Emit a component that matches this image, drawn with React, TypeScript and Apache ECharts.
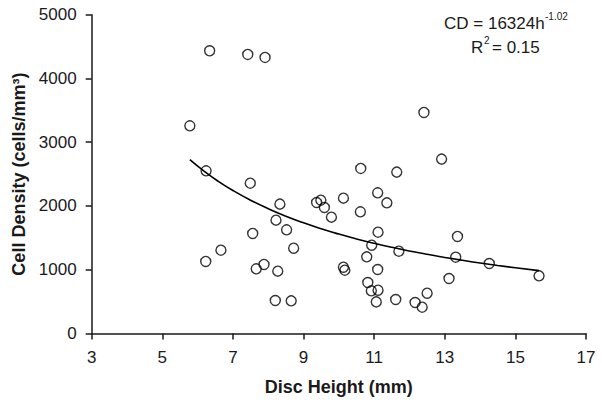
import React, { useEffect, useRef } from "react";
import * as echarts from "echarts";

const discHeight = [
  5.78, 6.24, 6.23, 6.34, 6.66, 7.42, 7.49, 7.56, 7.66, 7.88,
  7.91, 8.2, 8.22, 8.27, 8.33, 8.52, 8.65, 8.72, 9.37, 9.49,
  9.59, 9.79, 10.13, 10.13, 10.17, 10.61, 10.62, 10.79, 10.82, 10.92,
  10.93, 11.06, 11.1, 11.1, 11.11, 11.11, 11.36, 11.61, 11.64, 11.7,
  12.16, 12.36, 12.41, 12.5, 12.91, 13.12, 13.31, 13.36, 14.26, 15.67,
];
const cellDensity = [
  3257, 2551, 1130, 4434, 1307, 4377, 2358, 1569, 1014, 1083,
  4330, 518, 1778, 978, 2029, 1626, 512, 1338, 2055, 2091,
  1977, 1825, 2123, 1040, 993, 1908, 2589, 1202, 800, 669,
  1385, 496, 2206, 1004, 1589, 679, 2049, 533, 2531, 1291,
  486, 413, 3467, 632, 2735, 863, 1197, 1522, 1098, 904,
];
const xTicks = { min: 3, max: 17, interval: 2 };
const yTicks = { min: 0, max: 5000, interval: 1000 };
// Power fit shown on the chart: CD = 16324 h^-1.02
const fitCoef = 16324;
const fitExp = -1.02;
const fitX = [
  5.78, 6.2, 6.6, 7.0, 7.5, 8.0, 8.5, 9.0, 9.5, 10.0, 10.5, 11.0, 11.5,
  12.0, 12.5, 13.0, 13.5, 14.0, 14.5, 15.0, 15.67,
];

export default function App() {
  const ref = useRef<HTMLDivElement>(null);
  useEffect(() => {
    if (!ref.current) return;
    const chart = echarts.init(ref.current, undefined, { renderer: "svg" });
    const scatterData = discHeight.map((x, i) => [x, cellDensity[i]]);
    const fitData = fitX.map((x) => [x, fitCoef * Math.pow(x, fitExp)]);
    const font = "Liberation Sans, Arial, sans-serif";
    const ink = "#1a1a1a";
    const axisCommon = {
      axisLine: { show: true, lineStyle: { color: ink, width: 1.5 } },
      axisTick: { show: true, length: 6, inside: false, lineStyle: { color: ink, width: 1.5 } },
      splitLine: { show: false },
      nameTextStyle: {
        color: ink,
        fontSize: 18,
        fontWeight: "bold",
        fontFamily: font,
      },
    };
    const labelStyle = {
      color: ink,
      fontSize: 17,
      fontFamily: font,
      margin: 15,
      formatter: (v: number) => String(v),
    };
    chart.setOption({
      animation: false,
      backgroundColor: "#ffffff",
      grid: { left: 91.7, right: 16, top: 14.7, bottom: 69.5, containLabel: false },
      xAxis: {
        type: "value",
        ...xTicks,
        name: "Disc Height (mm)",
        nameLocation: "middle",
        nameGap: 44,
        ...axisCommon,
        axisLabel: labelStyle,
      },
      yAxis: {
        type: "value",
        ...yTicks,
        name: "Cell Density (cells/mm³)",
        nameLocation: "middle",
        nameGap: 61,
        ...axisCommon,
        axisLabel: labelStyle,
      },
      series: [
        {
          type: "line",
          data: fitData,
          smooth: true,
          showSymbol: false,
          symbol: "none",
          lineStyle: { color: "#000000", width: 1.6 },
          z: 2,
        },
        {
          type: "scatter",
          data: scatterData,
          symbol: "circle",
          symbolSize: 10,
          itemStyle: { color: "rgba(255,255,255,0)", borderColor: "#000000", borderWidth: 1.4 },
          z: 3,
        },
      ],
      graphic: [
        {
          type: "text",
          left: 444,
          top: 15,
          style: { text: "CD = 16324h", fontSize: 17, fontFamily: font, fill: ink },
        },
        {
          type: "text",
          left: 545,
          top: 11,
          style: { text: "-1.02", fontSize: 10, fontFamily: font, fill: ink },
        },
        {
          type: "text",
          left: 471,
          top: 38.5,
          style: { text: "R", fontSize: 17, fontFamily: font, fill: ink },
        },
        {
          type: "text",
          left: 484,
          top: 35,
          style: { text: "2", fontSize: 10, fontFamily: font, fill: ink },
        },
        {
          type: "text",
          left: 492,
          top: 38.5,
          style: { text: "= 0.15", fontSize: 17, fontFamily: font, fill: ink },
        },
      ],
    });
    return () => chart.dispose();
  }, []);
  return <div ref={ref} style={{ width: 602, height: 403, position: "absolute", left: 0, top: 0 }} />;
}
